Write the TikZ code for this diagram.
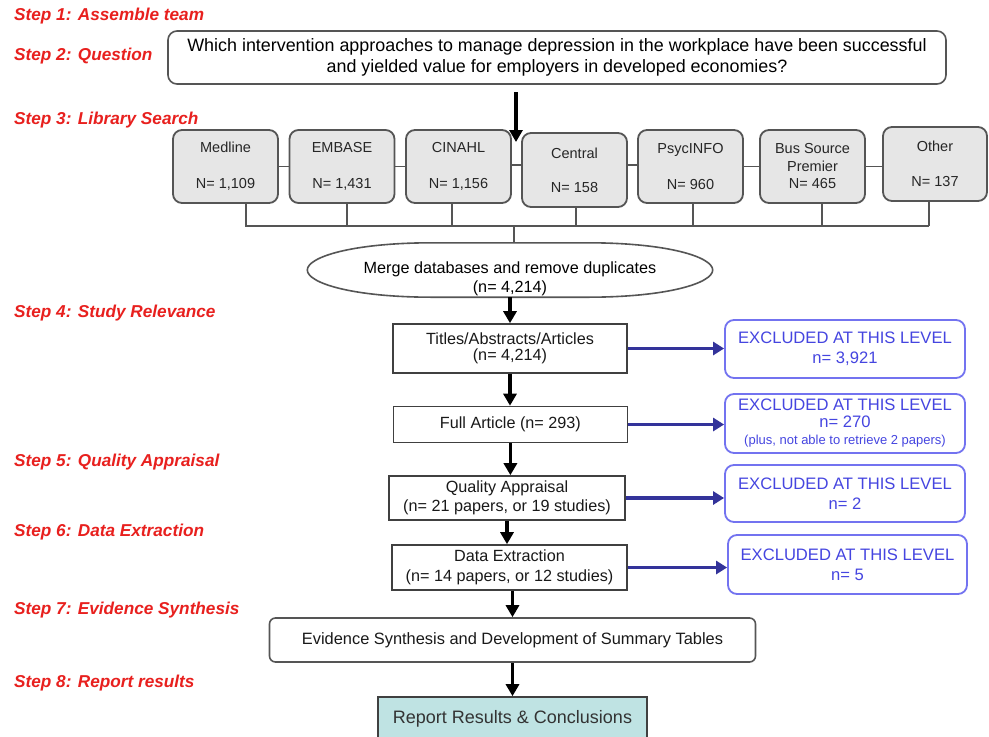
\documentclass[tikz,border=0pt]{standalone}
\usepackage{fontspec}
\setmainfont{Liberation Sans}
\usetikzlibrary{arrows.meta,shapes.geometric,calc}
\definecolor{stepred}{HTML}{E8201E}
\definecolor{exborder}{HTML}{7373F0}
\definecolor{extext}{HTML}{4545E0}
\definecolor{arrowblue}{HTML}{33339A}
\definecolor{dbfill}{HTML}{E6E6E6}
\definecolor{linegray}{HTML}{555555}
\definecolor{boxgray}{HTML}{404040}
\definecolor{reportfill}{HTML}{BFE3E3}
\tikzset{
  stepl/.style={text=stepred, font=\fontsize{17.2}{20}\selectfont\bfseries\itshape, anchor=west, inner sep=0pt},
  dbbox/.style={draw=linegray, fill=dbfill, rounded corners=9pt, line width=1.8pt, minimum width=105pt, minimum height=73pt, inner sep=0pt, align=center, font=\fontsize{14.5}{17.5}\selectfont, text=black!85},
  flowbox/.style={draw=boxgray, line width=1.6pt, inner sep=0pt, align=center, font=\fontsize{16.2}{19.5}\selectfont, text=black!90},
  exbox/.style={draw=exborder, rounded corners=9pt, line width=1.8pt, minimum width=240pt, inner sep=0pt, align=center, text=extext, font=\fontsize{16.6}{19.5}\selectfont},
  conn/.style={draw=linegray, line width=1.8pt},
  blackarrow/.style={line width=3.4pt, -{Triangle[length=12pt,width=13pt]}},
  bluearrow/.style={draw=arrowblue, line width=3.6pt, -{Triangle[length=11pt,width=13pt]}}
}
\begin{document}
\begin{tikzpicture}[x=1pt,y=-1pt]
\path[use as bounding box, clip] (0,0) rectangle (989,737);
\fill[white] (0,0) rectangle (989,737);

% step labels
\node[stepl] (s1) at (14,16) {Step 1: Assemble team};
\node[stepl] (s2) at (14,56) {Step 2: Question};
\node[stepl] (s3) at (14,120) {Step 3: Library Search};
\node[stepl] (s4) at (14,313) {Step 4: Study Relevance};
\node[stepl] (s5) at (14,462) {Step 5: Quality Appraisal};
\node[stepl] (s6) at (14,532) {Step 6: Data Extraction};
\node[stepl] (s7) at (14,610) {Step 7: Evidence Synthesis};
\node[stepl] (s8) at (14,683) {Step 8: Report results};

% question
\node[draw=linegray, line width=1.6pt, rounded corners=9pt, minimum width=778pt, minimum height=53pt, inner sep=0pt, align=center, font=\fontsize{17.9}{21}\selectfont] (q) at (557,57.5)
  {Which intervention approaches to manage depression in the workplace have been successful\\and yielded value for employers in developed economies?};
\coordinate (qa) at (516,92);
\coordinate (qb) at (516,142);
\draw[blackarrow] (qa) -- (qb);

% databases
\node[dbbox] (med) at (225.5,166.5) {Medline\\[18.5pt]N= 1,109};
\node[dbbox] (emb) at (342,166.5) {EMBASE\\[18.5pt]N= 1,431};
\node[dbbox] (cin) at (458.5,166.5) {CINAHL\\[18.5pt]N= 1,156};
\node[dbbox, minimum height=74pt] (cen) at (574.5,170) {Central\\[16.5pt]N= 158};
\node[dbbox] (psy) at (690.5,166.5) {PsycINFO\\[18.5pt]N= 960};
\node[dbbox] (bus) at (812.5,166.5) {Bus Source\\Premier\\N= 465};
\node[dbbox, minimum width=104pt, minimum height=74pt] (oth) at (935,164) {Other\\[17.5pt]N= 137};

\draw[conn] (med.east) -- (emb.west);
\draw[conn] (emb.east) -- (cin.west);
\draw[conn] ($(cin.east)+(0,-1.5)$) -- ($(cin.east -| cen.west)+(0,-1.5)$);
\draw[conn] ($(psy.west -| cen.east)+(0,-1.5)$) -- ($(psy.west)+(0,-1.5)$);
\draw[conn] (psy.east) -- (bus.west);
\draw[conn] (bus.east) -- (bus.east -| oth.west);

\coordinate (busl) at (246,226);
\coordinate (busr) at (929,226);
\draw[conn] ($(med.south)+(20.5,0)$) |- (busl) -- (busr);
\draw[conn] ($(emb.south)+(5,0)$) -- ++(0,22.5);
\draw[conn] ($(cin.south)+(-6.5,0)$) -- ++(0,22.5);
\draw[conn] ($(cen.south)+(1.5,0)$) -- ++(0,19);
\draw[conn] ($(psy.south)+(2.5,0)$) -- ++(0,22.5);
\draw[conn] ($(bus.south)+(9.5,0)$) -- ++(0,22.5);
\draw[conn] ($(oth.south)+(-6,0)$) -- (busr);

% merge (flattened ellipse)
\node[minimum width=405pt, minimum height=54pt, inner sep=0pt, align=center, font=\fontsize{16.2}{18.5}\selectfont] (ell) at (510,270)
  {\rule{0pt}{29pt}Merge databases and remove duplicates\\(n= 4,214)};
\draw[draw=linegray, line width=1.6pt]
  (ell.west) .. controls ($(ell.west)+(0,-13)$) and ($(ell.north west)+(45,0)$) .. ($(ell.north west)+(125,0)$)
  -- ($(ell.north east)+(-125,0)$) .. controls ($(ell.north east)+(-45,0)$) and ($(ell.east)+(0,-13)$) .. (ell.east)
  .. controls ($(ell.east)+(0,13)$) and ($(ell.south east)+(-45,0)$) .. ($(ell.south east)+(-125,0)$)
  -- ($(ell.south west)+(125,0)$) .. controls ($(ell.south west)+(45,0)$) and ($(ell.west)+(0,13)$) .. (ell.west) -- cycle;
\draw[conn] (busl -| 514,0) -- (ell.north -| 514,0);

% flow boxes
\node[flowbox, minimum width=234pt, minimum height=49pt, font=\fontsize{16.2}{16.5}\selectfont] (tit) at (510,348.5) {Titles/Abstracts/Articles\\(n= 4,214)};
\node[flowbox, minimum width=234pt, minimum height=36pt] (ful) at (510.4,424.5) {Full Article (n= 293)};
\node[flowbox, minimum width=236pt, minimum height=44pt] (qua) at (507,498) {Quality Appraisal\\(n= 21 papers, or 19 studies)};
\node[flowbox, minimum width=235pt, minimum height=45pt] (dat) at (509.5,567.5) {Data Extraction\\(n= 14 papers, or 12 studies)};
\node[flowbox, draw=linegray, rounded corners=6pt, minimum width=486pt, minimum height=44pt, font=\fontsize{16.4}{19}\selectfont] (evi) at (512.5,640) {Evidence Synthesis and Development of Summary Tables};
\node[flowbox, fill=reportfill, minimum width=269pt, minimum height=44pt, font=\fontsize{18}{19}\selectfont, text=black!80] (rep) at (512.5,719) {Report Results \& Conclusions};

% excluded boxes
\node[exbox, minimum height=58pt] (ex1) at (845,349) {EXCLUDED AT THIS LEVEL\\n= 3,921};
\node[exbox, minimum height=59pt, font=\fontsize{16.6}{17}\selectfont] (ex2) at (845,423.5) {EXCLUDED AT THIS LEVEL\\n= 270\\{\fontsize{13}{17}\selectfont (plus, not able to retrieve 2 papers)}};
\node[exbox, minimum height=57pt, font=\fontsize{16.6}{20}\selectfont] (ex3) at (845,493.5) {EXCLUDED AT THIS LEVEL\\n= 2};
\node[exbox, minimum width=239pt, minimum height=59pt, font=\fontsize{16.6}{20}\selectfont] (ex4) at (847.5,564.5) {EXCLUDED AT THIS LEVEL\\n= 5};

% black arrows
\draw[blackarrow] (ell.south) -- (tit.north);
\draw[blackarrow] (tit.south) -- (tit.south |- ful.north);
\draw[blackarrow] (ful.south) -- (ful.south |- qua.north);
\draw[blackarrow] (qua.south) -- (qua.south |- dat.north);
\draw[blackarrow] ($(dat.south)+(3,0)$) -- ($(dat.south |- evi.north)+(3,0)$);
\draw[blackarrow] (evi.south) -- (rep.north);

% blue arrows
\draw[bluearrow] (tit.east) -- (tit.east -| ex1.west);
\draw[bluearrow] (ful.east) -- (ful.east -| ex2.west);
\draw[bluearrow] (qua.east) -- (qua.east -| ex3.west);
\draw[bluearrow] (dat.east) -- (dat.east -| ex4.west);
\end{tikzpicture}
\end{document}
